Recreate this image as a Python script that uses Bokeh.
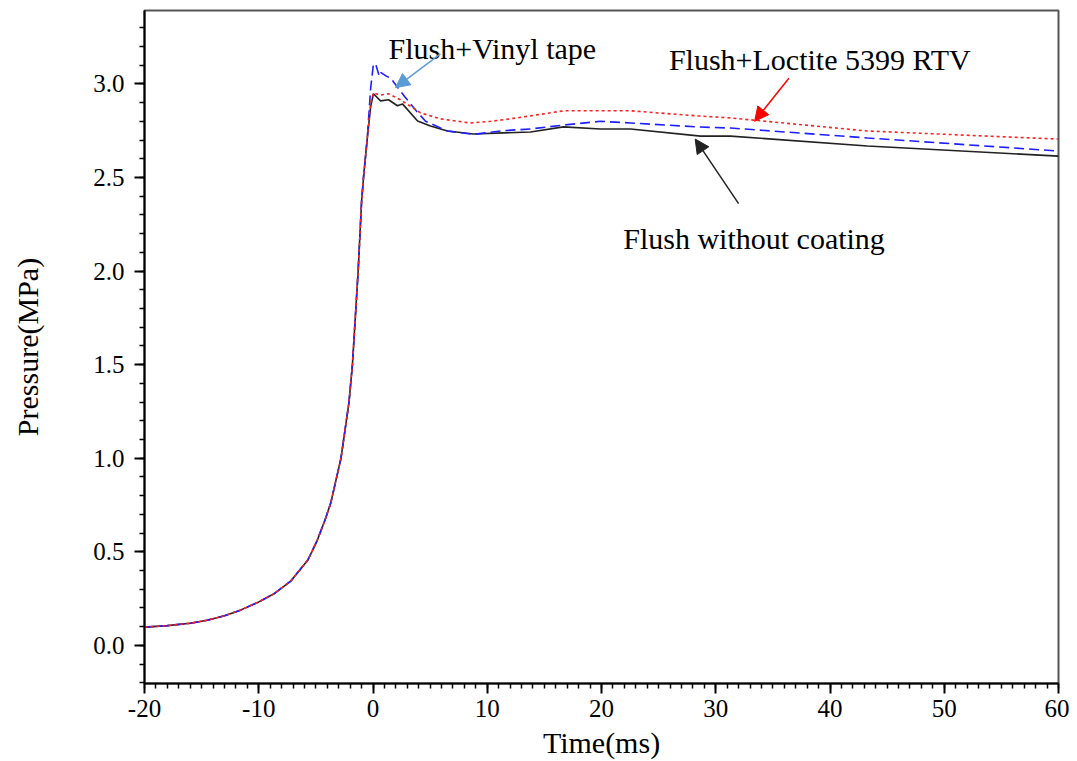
from bokeh.plotting import figure
from bokeh.models import (SingleIntervalTicker, PrintfTickFormatter, Label, Arrow, NormalHead, Range1d)
from bokeh.embed import file_html
from bokeh.resources import INLINE

# Shared rising part (all three sensors coincide)
x_rise = [-20, -18, -16, -14.5, -13, -11.6, -10, -8.7, -7.2, -5.7, -4.9, -4.2, -3.7,
          -2.8, -2.1, -1.8, -1.3, -1.0, -0.83, -0.5]
y_rise = [0.097, 0.105, 0.118, 0.134, 0.158, 0.188, 0.232, 0.274, 0.343, 0.456, 0.558,
          0.67, 0.76, 1.0, 1.30, 1.5, 2.0, 2.37, 2.50, 2.71]

# Flush without coating (black)
x_black = [-0.2, 0.04, 0.66, 1.36, 2.14, 2.58, 3.9, 5.03, 6.52, 8.8, 11.4, 13.79, 16.67,
           19.91, 22.54, 28.67, 31.29, 43.28, 60.0]
y_black = [2.88, 2.947, 2.909, 2.915, 2.883, 2.893, 2.802, 2.775, 2.748, 2.732, 2.738,
           2.743, 2.770, 2.759, 2.759, 2.721, 2.721, 2.668, 2.614]

# Flush + Vinyl tape (blue, dashed)
x_blue = [-0.2, 0.04, 0.26, 0.55, 0.7, 1.2, 1.6, 1.8, 2.8, 3.8, 4.6, 6.52, 8.8, 11.4,
          13.8, 16.67, 19.91, 22.54, 28.4, 31.29, 43.28, 60.0]
y_blue = [2.98, 3.108, 3.10, 3.04, 3.06, 3.04, 3.03, 3.01, 2.93, 2.855, 2.80, 2.748,
          2.73, 2.75, 2.759, 2.78, 2.80, 2.791, 2.77, 2.764, 2.711, 2.641]

# Flush + Loctite 5399 RTV (red, dotted)
x_red = [-0.2, 0.04, 0.6, 1.36, 2.4, 4.16, 5.9, 8.5, 10.3, 12.0, 13.8, 16.67, 19.91,
         22.54, 28.4, 31.29, 43.28, 60.0]
y_red = [2.90, 2.952, 2.94, 2.947, 2.915, 2.845, 2.813, 2.791, 2.80, 2.813, 2.829,
         2.856, 2.856, 2.856, 2.829, 2.818, 2.748, 2.705]

FONT = "Liberation Serif"

p = figure(width=1069, height=761, output_backend="svg", toolbar_location=None,
           x_range=Range1d(-20, 60), y_range=Range1d(-0.204, 3.392),
           min_border_left=144, min_border_right=11, min_border_top=10, min_border_bottom=75)

p.xgrid.visible = False
p.ygrid.visible = False
p.outline_line_color = "#555555"
p.outline_line_width = 2
p.background_fill_color = "white"
p.border_fill_color = "white"

p.xaxis.ticker = SingleIntervalTicker(interval=10, num_minor_ticks=10)
p.yaxis.ticker = SingleIntervalTicker(interval=0.5, num_minor_ticks=5)
p.yaxis.formatter = PrintfTickFormatter(format="%.1f")
p.xaxis.formatter = PrintfTickFormatter(format="%d")

for ax in (p.xaxis, p.yaxis):
    ax.axis_line_color = "black"
    ax.axis_line_width = 2
    ax.major_tick_line_color = "black"
    ax.major_tick_line_width = 2
    ax.minor_tick_line_color = "black"
    ax.minor_tick_line_width = 1.5
    ax.major_tick_out = 10
    ax.major_tick_in = 0
    ax.minor_tick_out = 5
    ax.minor_tick_in = 0
    ax.major_label_text_font = FONT
    ax.major_label_text_font_size = "25px"
    ax.major_label_text_color = "black"
    ax.axis_label_text_font = FONT
    ax.axis_label_text_font_size = "30px"
    ax.axis_label_text_font_style = "normal"
    ax.axis_label_text_color = "black"

p.xaxis.axis_label = "Time(ms)"
p.yaxis.axis_label = "Pressure(MPa)"
p.xaxis.major_label_standoff = 6
p.yaxis.major_label_standoff = 10
p.xaxis.axis_label_standoff = 6
p.yaxis.axis_label_standoff = 46

p.line(x_rise + x_black, y_rise + y_black, line_color="#222222", line_width=1.6)
p.line(x_rise + x_blue, y_rise + y_blue, line_color="#1f1fff", line_width=1.6, line_dash="10 5")
p.line(x_rise + x_red, y_rise + y_red, line_color="#ff2020", line_width=1.6, line_dash="3 3")

labels = [
    ("Flush+Vinyl tape", 1.36, 3.19),
    ("Flush+Loctite 5399 RTV", 25.9, 3.13),
    ("Flush without coating", 21.9, 2.174),
]
for txt, lx, ly in labels:
    p.add_layout(Label(x=lx, y=ly, text=txt, text_font=FONT, text_font_size="30px",
                       text_color="black", text_baseline="alphabetic", text_align="left"))

arrows = [
    (5.9, 3.16, 1.97, 2.98, "#5b9bd5"),
    (36.4, 3.03, 33.4, 2.80, "#ff0000"),
    (32.0, 2.36, 28.2, 2.705, "#222222"),
]
for xs, ys, xe, ye, c in arrows:
    p.add_layout(Arrow(end=NormalHead(size=14, fill_color=c, line_color=c),
                       x_start=xs, y_start=ys, x_end=xe, y_end=ye,
                       line_color=c, line_width=1.5))

open("out.html", "w").write(file_html(p, INLINE))
